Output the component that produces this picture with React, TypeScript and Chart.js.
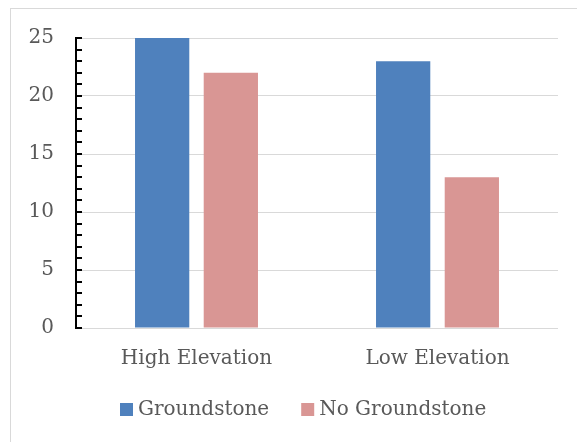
import React, { useEffect, useRef } from "react";
import { Chart, registerables } from "chart.js";

Chart.register(...registerables);

const categories = ["High Elevation", "Low Elevation"];
const groundstone = [25, 23];
const noGroundstone = [22, 13];
const yMax = 25;
const yStep = 5;

const FONT = "'DejaVu Serif', serif";
const TEXT = "#595959";

// Frame, inward minor ticks on the value axis, and a compact bottom legend
const decorPlugin = {
  id: "decor",
  beforeDraw(chart: any) {
    const ctx = chart.ctx;
    ctx.save();
    ctx.strokeStyle = "#d9d9d9";
    ctx.lineWidth = 1;
    ctx.strokeRect(10.5, 8.5, 700, 600);
    ctx.restore();
  },
  afterDraw(chart: any) {
    const y = chart.scales.y;
    const ctx = chart.ctx;
    const x0 = y.right;
    ctx.save();
    ctx.strokeStyle = "#000";
    ctx.lineWidth = 2;
    for (let v = 0; v <= yMax; v += 1) {
      const py = Math.round(y.getPixelForValue(v));
      ctx.beginPath();
      ctx.moveTo(x0, py);
      ctx.lineTo(x0 + 6, py);
      ctx.stroke();
    }

    // legend
    ctx.font = `20px ${FONT}`;
    ctx.textBaseline = "middle";
    ctx.textAlign = "left";
    const cy = 410;
    let x = 120;
    chart.data.datasets.forEach((ds: any) => {
      ctx.fillStyle = ds.backgroundColor;
      ctx.fillRect(x, cy - 7, 13, 13);
      ctx.fillStyle = TEXT;
      ctx.fillText(ds.label, x + 18, cy);
      x += 18 + ctx.measureText(ds.label).width + 32;
    });
    ctx.restore();
  },
};

export default function App() {
  const ref = useRef<HTMLCanvasElement>(null);
  useEffect(() => {
    const chart = new Chart(ref.current!, {
      type: "bar",
      data: {
        labels: categories,
        datasets: [
          { label: "Groundstone", data: groundstone, backgroundColor: "#4f81bd" },
          { label: "No Groundstone", data: noGroundstone, backgroundColor: "#d99694" },
        ],
      },
      options: {
        animation: false,
        responsive: false,
        devicePixelRatio: 1,
        layout: { padding: { left: 0, right: 19, top: 38, bottom: 60 } },
        datasets: { bar: { categoryPercentage: 0.57, barPercentage: 0.79 } },
        scales: {
          x: {
            grid: { display: false },
            border: { display: false },
            ticks: { color: TEXT, font: { family: FONT, size: 20 }, padding: 11 },
          },
          y: {
            min: 0,
            max: yMax,
            ticks: { stepSize: yStep, color: TEXT, font: { family: FONT, size: 20 }, padding: 22 },
            grid: { color: "#d9d9d9", drawTicks: false },
            border: { color: "#000", width: 2 },
            afterFit(s: any) { s.width = 76; },
          },
        },
        plugins: {
          legend: { display: false },
          tooltip: { enabled: false },
        },
      },
      plugins: [decorPlugin],
    });
    return () => chart.destroy();
  }, []);
  return (
    <div style={{ position: "fixed", left: 0, top: 0, width: 577, height: 442, background: "#fff" }}>
      <canvas ref={ref} width={577} height={442} style={{ width: 577, height: 442 }} />
    </div>
  );
}
